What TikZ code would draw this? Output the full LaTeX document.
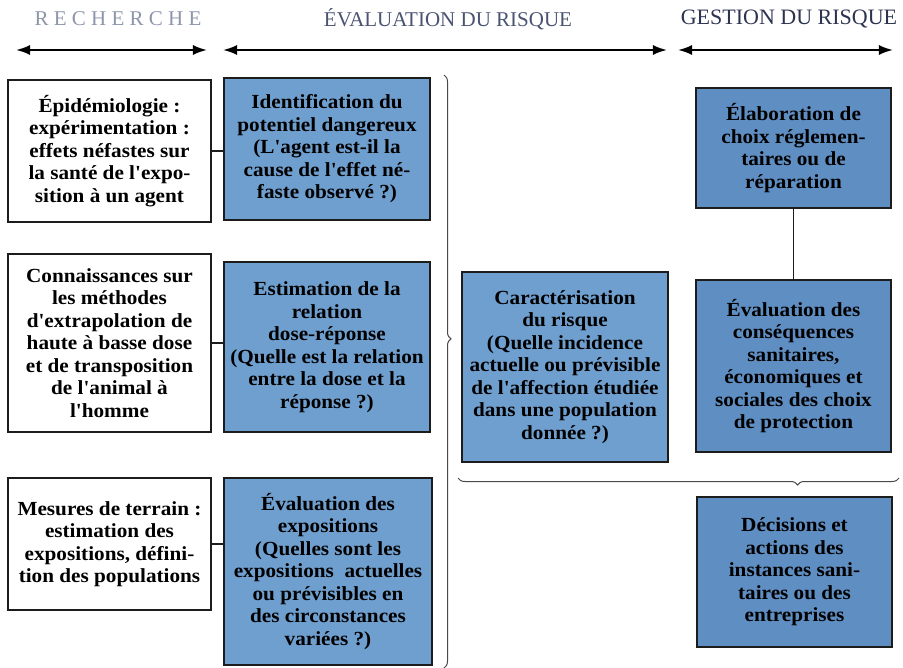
\documentclass[tikz,border=0pt]{standalone}
\usepackage{fontspec}
\setmainfont{Liberation Serif}[Ligatures=TeXOff]
\usepackage{tikz}
\usetikzlibrary{arrows.meta, positioning, calc, decorations.pathreplacing}
\definecolor{rhead}{HTML}{8C95AA}
\definecolor{ehead}{HTML}{4A5372}
\definecolor{ghead}{HTML}{2C3450}
\definecolor{bluemid}{HTML}{6F9FCF}
\definecolor{bluedark}{HTML}{5F8EC3}
\definecolor{edge}{HTML}{1C1C1C}
\newcommand{\boxfont}{\fontsize{20}{22.5}\selectfont\bfseries\addfontfeatures{FakeStretch=1.06}}
\tikzset{
  wbox/.style={draw=edge, fill=white, line width=1.4pt, align=center,
               font=\boxfont, inner sep=1pt},
  bbox/.style={draw=edge, fill=bluemid, line width=1.4pt, align=center,
               font=\boxfont, inner sep=1pt},
  dbox/.style={bbox, fill=bluedark},
  link/.style={line width=1.1pt, edge},
  span/.style={{Latex[length=5mm,width=3.6mm]}-{Latex[length=5mm,width=3.6mm]},
               line width=2pt, black},
}

\begin{document}
\begin{tikzpicture}[x=1pt, y=-1pt,
    headtxt/.style={font=\fontsize{21}{24}\selectfont, anchor=center},
    brc/.style={decorate, line width=1pt, edge!80},
  ]
  \useasboundingbox (0,0) rectangle (903,668);

  % En-têtes des trois domaines
  \node[headtxt, rhead] (hrech) at (118,19)
    {\addfontfeatures{LetterSpace=25}RECHERCHE};
  \node[headtxt, ehead] (heval) at (448,19) {ÉVALUATION DU RISQUE};
  \node[headtxt, ghead, font=\fontsize{22}{24}\selectfont] (hgest) at (789,19)
    {GESTION DU RISQUE};
  \coordinate (a1) at (16,50);  \coordinate (a2) at (207,50);
  \coordinate (b1) at (223,50); \coordinate (b2) at (667,50);
  \coordinate (c1) at (678,50); \coordinate (c2) at (893,50);
  \draw[span] (a1) -- (a2);
  \draw[span] (b1) -- (b2);
  \draw[span] (c1) -- (c2);

  % Colonne recherche (blanche)
  \node[wbox, minimum width=203, minimum height=142] (l1) at (109.5,151)
    {Épidémiologie :\\ expérimentation :\\ effets néfastes sur\\
     la santé de l'expo-\\ sition à un agent};
  \node[wbox, minimum width=203, minimum height=178] (l2) at (109.5,343)
    {Connaissances sur\\ les méthodes\\ d'extrapolation de\\
     haute à basse dose\\ et de transposition\\ de l'animal à\\ l'homme};
  \node[wbox, minimum width=203, minimum height=132] (l3) at (109.5,544)
    {Mesures de terrain :\\ estimation des\\ expositions, défini-\\
     tion des populations};

  % Colonne évaluation (bleue)
  \node[bbox, minimum width=206, minimum height=142] (e1) at (327,149)
    {Identification du\\ potentiel dangereux\\ (L'agent est-il la\\
     cause de l'effet né-\\ faste observé ?)};
  \node[bbox, minimum width=206, minimum height=170] (e2) at (327,347)
    {Estimation de la\\ relation\\ dose-réponse\\
     (Quelle est la relation\\ entre la dose et la\\ réponse ?)};
  \node[bbox, minimum width=208, minimum height=187] (e3) at (328,571.5)
    {Évaluation des\\ expositions\\ (Quelles sont les\\
     expositions~ actuelles\\ ou prévisibles en\\ des circonstances\\ variées ?)};

  \draw[link] (l1.east) -- (l1.east -| e1.west);
  \draw[link] (l2.east) -- (l2.east -| e2.west);
  \draw[link] (l3.east) -- (l3.east -| e3.west);

  % Accolade vers la caractérisation
  \coordinate (bt) at (444,75);
  \coordinate (bb) at (444,668);
  \draw[brc, decoration={brace, amplitude=7pt, aspect=0.445}] (bt) -- (bb);

  \node[bbox, minimum width=206, minimum height=190] (car) at (565,367)
    {Caractérisation\\ du risque\\ (Quelle incidence\\
     actuelle ou prévisible\\ de l'affection étudiée\\ dans une population\\ donnée ?)};

  % Colonne gestion (bleu foncé)
  \node[dbox, minimum width=195, minimum height=120] (g1) at (793.5,148)
    {Élaboration de\\ choix réglemen-\\ taires ou de\\ réparation};
  \node[dbox, minimum width=195, minimum height=172] (g2) at (793.5,366)
    {Évaluation des\\ conséquences\\ sanitaires,\\
     économiques et\\ sociales des choix\\ de protection};
  \node[dbox, minimum width=195, minimum height=150] (g3) at (794.5,572)
    {Décisions et\\ actions des\\ instances sani-\\ taires ou des\\ entreprises};

  \draw[link] (g1.south) -- (g2.north);

  % Accolade horizontale vers les décisions
  \coordinate (hl) at (458,478);
  \coordinate (hr) at (899,478);
  \draw[brc, decoration={brace, mirror, amplitude=7pt, aspect=0.77}] (hl) -- (hr);
\end{tikzpicture}
\end{document}
